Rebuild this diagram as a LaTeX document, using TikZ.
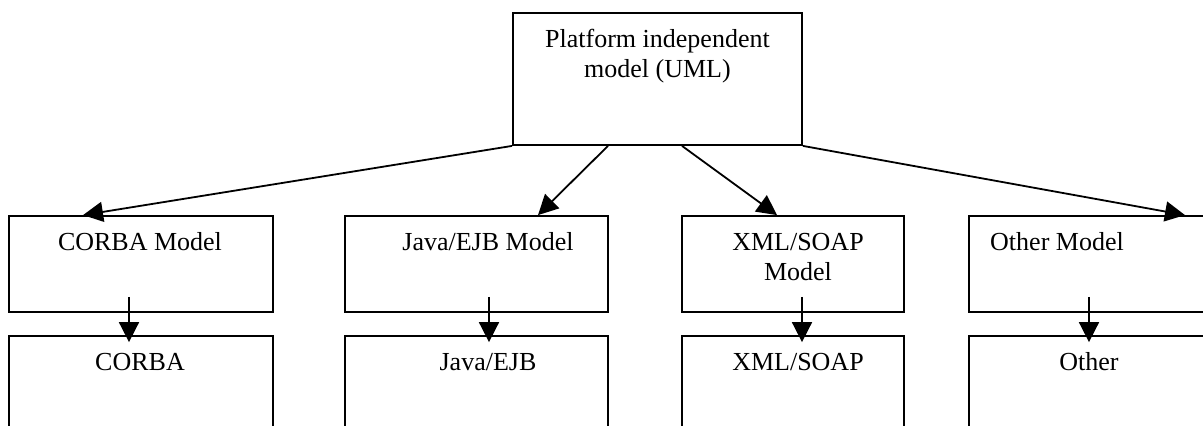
\documentclass[tikz,border=0pt]{standalone}
\usepackage{fontspec}
\setmainfont{Liberation Serif}
\usetikzlibrary{arrows.meta}
\begin{document}
\begin{tikzpicture}[x=1pt, y=-1pt,
box/.style={draw, rectangle, line width=1.8pt, inner sep=0pt, minimum height=96pt},
lowbox/.style={draw, rectangle, line width=1.8pt, inner sep=0pt, minimum height=130pt},
lbl/.style={anchor=base, align=center, inner sep=0pt, font=\fontsize{26}{30}\selectfont},
arr/.style={-{Triangle[length=20pt, width=20pt]}, line width=1.8pt}
]
\useasboundingbox (0,0) rectangle (1203,426);
\clip (0,0) rectangle (1203,426);

\node[box, minimum width=289pt, minimum height=132pt] (pim) at (657.5,79) {};
\node[lbl] (pimT) at (657.5,77) {Platform independent\\model (UML)};

% platform specific models
\node[box, minimum width=264pt] (corbaM) at (141,264) {};
\node[box, minimum width=263pt] (javaM) at (476.5,264) {};
\node[box, minimum width=222pt] (xmlM) at (793,264) {};
\node[box, minimum width=240pt] (otherM) at (1089,264) {};
\node[lbl] (corbaMT) at (140,250) {CORBA Model};
\node[lbl] (javaMT) at (488,250) {Java/EJB Model};
\node[lbl] (xmlMT) at (798,280) {XML/SOAP\\Model};
\node[lbl, anchor=base west] (otherMT) at (990,250) {Other Model};

% platforms
\node[lowbox, minimum width=264pt] (corba) at (141,401) {};
\node[lowbox, minimum width=263pt] (java) at (476.5,401) {};
\node[lowbox, minimum width=222pt] (xml) at (793,401) {};
\node[lowbox, minimum width=240pt] (other) at (1089,401) {};
\node[lbl] (corbaT) at (140,370) {CORBA};
\node[lbl] (javaT) at (488,370) {Java/EJB};
\node[lbl] (xmlT) at (798,370) {XML/SOAP};
\node[lbl] (otherT) at (1089,370) {Other};

\draw[arr] (pim.south west) -- ([xshift=-58pt]corbaM.north);
\draw[arr] ([xshift=-49.5pt]pim.south) -- ([xshift=61.5pt]javaM.north);
\draw[arr] ([xshift=24.5pt]pim.south) -- ([xshift=-16pt]xmlM.north);
\draw[arr] (pim.south east) -- ([xshift=96pt]otherM.north);

\draw[arr] ([xshift=-12pt,yshift=16pt]corbaM.south) -- ([xshift=-12pt,yshift=-7pt]corba.north);
\draw[arr] ([xshift=12.5pt,yshift=16pt]javaM.south) -- ([xshift=12.5pt,yshift=-7pt]java.north);
\draw[arr] ([xshift=9pt,yshift=16pt]xmlM.south) -- ([xshift=9pt,yshift=-7pt]xml.north);
\draw[arr] ([yshift=16pt]otherM.south) -- ([yshift=-7pt]other.north);
\end{tikzpicture}
\end{document}
